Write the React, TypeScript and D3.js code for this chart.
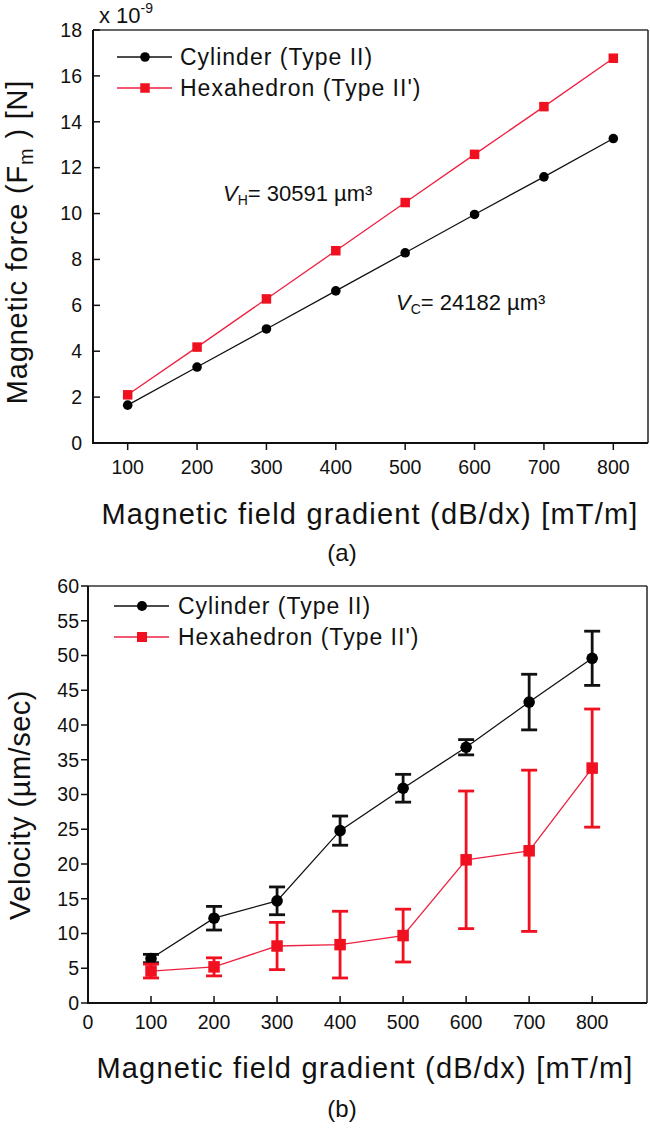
import React, { useEffect } from "react";
import * as d3 from "d3";

// ---------- Data ----------
const gradients = [100, 200, 300, 400, 500, 600, 700, 800];

// (a) Magnetic force (x 10^-9 N)
const forceCylinder = [1.65, 3.31, 4.97, 6.63, 8.29, 9.96, 11.6, 13.27];
const forceHexahedron = [2.1, 4.18, 6.28, 8.38, 10.48, 12.58, 14.66, 16.77];

// (b) Velocity (µm/sec) with error
const velCylinder = [6.4, 12.2, 14.7, 24.8, 30.9, 36.8, 43.3, 49.6];
const velCylinderErr = [0.6, 1.7, 2.0, 2.1, 2.0, 1.1, 4.0, 3.9];
const velHexahedron = [4.6, 5.2, 8.2, 8.4, 9.7, 20.6, 21.9, 33.8];
const velHexahedronErr = [1.0, 1.3, 3.4, 4.8, 3.8, 9.9, 11.6, 8.5];

const topXTicks = [100, 200, 300, 400, 500, 600, 700, 800];
const topYTicks = [0, 2, 4, 6, 8, 10, 12, 14, 16, 18];
const botXTicks = [0, 100, 200, 300, 400, 500, 600, 700, 800];
const botYTicks = [0, 5, 10, 15, 20, 25, 30, 35, 40, 45, 50, 55, 60];

const seriesNames = ["Cylinder (Type II)", "Hexahedron (Type II')"];

const FONT = "'Liberation Sans', Arial, Helvetica, sans-serif";
const RED = "#f01020";
const RED_LINE = "#ee2040";

export default function App() {
  useEffect(() => {
    document.body.style.margin = "0";
  }, []);

  // ---------- scales (a) ----------
  const xA = d3.scaleLinear().domain([50, 850]).range([93, 648]);
  const yA = d3.scaleLinear().domain([0, 18]).range([443, 30]);
  // ---------- scales (b) ----------
  const xB = d3.scaleLinear().domain([0, 887]).range([88, 647]);
  const yB = d3.scaleLinear().domain([0, 60]).range([1003, 586]);

  const lineA = d3
    .line<number>()
    .x((_, i) => xA(gradients[i]))
    .y((d) => yA(d));
  const lineB = d3
    .line<number>()
    .x((_, i) => xB(gradients[i]))
    .y((d) => yB(d));

  const sqA = 9.5;
  const sqB = 11.5;

  return (
    <svg
      width={650}
      height={1131}
      style={{ position: "absolute", left: 0, top: 0, display: "block", background: "#fff" }}
      fontFamily={FONT}
    >
      <rect x={0} y={0} width={650} height={1131} fill="#fff" />

      {/* ================= (a) ================= */}
      <g>
        {/* frame */}
        <line x1={xA.range()[0]} x2={xA.range()[1]} y1={yA.range()[1]} y2={yA.range()[1]} stroke="#333" strokeWidth={1.6} />
        <line x1={xA.range()[1]} x2={xA.range()[1]} y1={yA.range()[1]} y2={yA.range()[0]} stroke="#333" strokeWidth={1.6} />
        <line x1={xA.range()[0]} x2={xA.range()[0]} y1={yA.range()[1]} y2={yA.range()[0] + 1} stroke="#111" strokeWidth={2} />
        <line x1={xA.range()[0]} x2={xA.range()[1]} y1={yA.range()[0]} y2={yA.range()[0]} stroke="#111" strokeWidth={2} />

        {/* y ticks (inward) */}
        {topYTicks.map((t) => (
          <g key={"ya" + t}>
            <line x1={xA.range()[0]} x2={xA.range()[0] + 7} y1={yA(t)} y2={yA(t)} stroke="#111" strokeWidth={1.5} />
            <text x={82} y={yA(t)} dy="0.35em" textAnchor="end" fontSize={19.5} fill="#111">
              {t}
            </text>
          </g>
        ))}
        {/* x ticks (outward) */}
        {topXTicks.map((t) => (
          <g key={"xa" + t}>
            <line x1={xA(t)} x2={xA(t)} y1={yA.range()[0]} y2={yA.range()[0] + 7} stroke="#111" strokeWidth={1.5} />
            <text x={xA(t)} y={474} textAnchor="middle" fontSize={19.5} fill="#111">
              {t}
            </text>
          </g>
        ))}

        {/* multiplier */}
        <text x={99} y={23} fontSize={22} fill="#111">
          x 10
          <tspan dy={-10} fontSize={14}>
            -9
          </tspan>
        </text>

        {/* lines */}
        <path d={lineA(forceCylinder) || ""} fill="none" stroke="#111" strokeWidth={1.3} />
        <path d={lineA(forceHexahedron) || ""} fill="none" stroke={RED_LINE} strokeWidth={1.3} />
        {forceCylinder.map((v, i) => (
          <circle key={"ca" + i} cx={xA(gradients[i])} cy={yA(v)} r={4.8} fill="#000" />
        ))}
        {forceHexahedron.map((v, i) => (
          <rect key={"ha" + i} x={xA(gradients[i]) - sqA / 2} y={yA(v) - sqA / 2} width={sqA} height={sqA} fill={RED} />
        ))}

        {/* legend */}
        <line x1={117} x2={172} y1={57} y2={57} stroke="#111" strokeWidth={1.3} />
        <circle cx={145} cy={57} r={4.8} fill="#000" />
        <text x={180} y={57} dy="0.36em" fontSize={23} letterSpacing={1} fill="#111">
          {seriesNames[0]}
        </text>
        <line x1={117} x2={172} y1={88} y2={88} stroke={RED_LINE} strokeWidth={1.3} />
        <rect x={145 - sqA / 2} y={88 - sqA / 2} width={sqA} height={sqA} fill={RED} />
        <text x={180} y={88} dy="0.36em" fontSize={23} letterSpacing={1} fill="#111">
          {seriesNames[1]}
        </text>

        {/* annotations */}
        <text x={223} y={201} fontSize={22} fill="#111">
          <tspan fontStyle="italic">V</tspan>
          <tspan fontSize={14} dy={4}>H</tspan>
          <tspan dy={-4}>= 30591 µm³</tspan>
        </text>
        <text x={396} y={310} fontSize={22} fill="#111">
          <tspan fontStyle="italic">V</tspan>
          <tspan fontSize={14} dy={4}>C</tspan>
          <tspan dy={-4}>= 24182 µm³</tspan>
        </text>

        {/* axis titles */}
        <text x={370} y={524} textAnchor="middle" fontSize={29} letterSpacing={1.2} fill="#111">
          Magnetic field gradient (dB/dx) [mT/m]
        </text>
        <text transform="translate(27,242) rotate(-90)" textAnchor="middle" fontSize={29} letterSpacing={0.8} fill="#111">
          Magnetic force (F
          <tspan fontSize={20} dy={6}>m</tspan>
          <tspan dy={-6}> ) [N]</tspan>
        </text>
        <text x={342} y={561} textAnchor="middle" fontSize={24} fill="#111">
          (a)
        </text>
      </g>

      {/* ================= (b) ================= */}
      <g>
        {/* frame */}
        <line x1={xB.range()[0]} x2={xB.range()[1]} y1={yB.range()[1]} y2={yB.range()[1]} stroke="#333" strokeWidth={1.6} />
        <line x1={xB.range()[1]} x2={xB.range()[1]} y1={yB.range()[1]} y2={yB.range()[0]} stroke="#333" strokeWidth={1.6} />
        <line x1={xB.range()[0]} x2={xB.range()[0]} y1={yB.range()[1]} y2={yB.range()[0] + 1} stroke="#111" strokeWidth={2} />
        <line x1={xB.range()[0]} x2={xB.range()[1]} y1={yB.range()[0]} y2={yB.range()[0]} stroke="#111" strokeWidth={2} />

        {/* y ticks (outward) */}
        {botYTicks.map((t) => (
          <g key={"yb" + t}>
            <line x1={xB.range()[0] - 7} x2={xB.range()[0]} y1={yB(t)} y2={yB(t)} stroke="#111" strokeWidth={1.5} />
            <text x={79} y={yB(t)} dy="0.35em" textAnchor="end" fontSize={19.5} fill="#111">
              {t}
            </text>
          </g>
        ))}
        {/* x ticks (inward) */}
        {botXTicks.map((t) => (
          <g key={"xb" + t}>
            {t > 0 && (
              <line x1={xB(t)} x2={xB(t)} y1={yB.range()[0]} y2={yB.range()[0] - 7} stroke="#111" strokeWidth={1.5} />
            )}
            <text x={xB(t)} y={1029} textAnchor="middle" fontSize={19.5} fill="#111">
              {t}
            </text>
          </g>
        ))}

        {/* lines */}
        <path d={lineB(velCylinder) || ""} fill="none" stroke="#111" strokeWidth={1.3} />
        <path d={lineB(velHexahedron) || ""} fill="none" stroke={RED_LINE} strokeWidth={1.3} />

        {/* error bars: cylinder */}
        {velCylinder.map((v, i) => {
          const x = xB(gradients[i]);
          const y1 = yB(v + velCylinderErr[i]);
          const y2 = yB(v - velCylinderErr[i]);
          return (
            <g key={"ec" + i} stroke="#111" strokeWidth={2.8}>
              <line x1={x} x2={x} y1={y1} y2={y2} />
              <line x1={x - 8} x2={x + 8} y1={y1} y2={y1} />
              <line x1={x - 8} x2={x + 8} y1={y2} y2={y2} />
            </g>
          );
        })}
        {velCylinder.map((v, i) => (
          <circle key={"cb" + i} cx={xB(gradients[i])} cy={yB(v)} r={5.8} fill="#000" />
        ))}

        {/* error bars: hexahedron */}
        {velHexahedron.map((v, i) => {
          const x = xB(gradients[i]);
          const y1 = yB(v + velHexahedronErr[i]);
          const y2 = yB(v - velHexahedronErr[i]);
          return (
            <g key={"eh" + i} stroke={RED} strokeWidth={2.8}>
              <line x1={x} x2={x} y1={y1} y2={y2} />
              <line x1={x - 8} x2={x + 8} y1={y1} y2={y1} />
              <line x1={x - 8} x2={x + 8} y1={y2} y2={y2} />
            </g>
          );
        })}
        {velHexahedron.map((v, i) => (
          <rect key={"hb" + i} x={xB(gradients[i]) - sqB / 2} y={yB(v) - sqB / 2} width={sqB} height={sqB} fill={RED} />
        ))}

        {/* legend */}
        <line x1={114} x2={169} y1={606} y2={606} stroke="#111" strokeWidth={1.3} />
        <circle cx={142} cy={606} r={5} fill="#000" />
        <text x={178} y={606} dy="0.36em" fontSize={23} letterSpacing={1} fill="#111">
          {seriesNames[0]}
        </text>
        <line x1={114} x2={169} y1={637} y2={637} stroke={RED_LINE} strokeWidth={1.3} />
        <rect x={142 - 5} y={637 - 5} width={10} height={10} fill={RED} />
        <text x={178} y={637} dy="0.36em" fontSize={23} letterSpacing={1} fill="#111">
          {seriesNames[1]}
        </text>

        {/* axis titles */}
        <text x={365} y={1078} textAnchor="middle" fontSize={29} letterSpacing={1.2} fill="#111">
          Magnetic field gradient (dB/dx) [mT/m]
        </text>
        <text transform="translate(30,805) rotate(-90)" textAnchor="middle" fontSize={29} letterSpacing={0.5} fill="#111">
          Velocity (µm/sec)
        </text>
        <text x={342} y={1117} textAnchor="middle" fontSize={24} fill="#111">
          (b)
        </text>
      </g>
    </svg>
  );
}
